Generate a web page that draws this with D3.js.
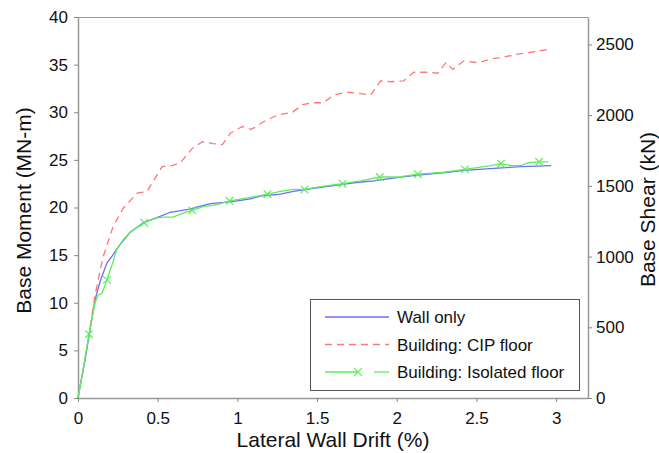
<!DOCTYPE html>
<html>
<head>
<meta charset="utf-8">
<script src="https://cdn.jsdelivr.net/npm/d3@7"></script>
<style>
  body { margin: 0; background: #fff; }
  svg { font-family: "Liberation Sans", Arial, sans-serif; }
</style>
</head>
<body>
<svg id="chart" width="659" height="453"></svg>
<script>
// drift (%) and base moment (MN-m)
const wallDrift  = [0, 0.044, 0.075, 0.107, 0.138, 0.182, 0.214, 0.264, 0.327, 0.409, 0.503, 0.579, 0.692, 0.830, 0.956, 1.082, 1.145, 1.270, 1.352, 1.478, 1.604, 1.730, 1.855, 2.025, 2.132, 2.321, 2.421, 2.610, 2.780, 2.969];
const wallMoment = [0, 4.0, 7.1, 10.3, 12.2, 14.2, 14.9, 16.1, 17.4, 18.4, 19.0, 19.5, 19.8, 20.4, 20.6, 20.9, 21.2, 21.4, 21.7, 22.0, 22.3, 22.6, 22.8, 23.2, 23.4, 23.7, 23.9, 24.1, 24.3, 24.4];

const cipDrift  = [0, 0.044, 0.107, 0.157, 0.220, 0.283, 0.371, 0.434, 0.528, 0.591, 0.642, 0.717, 0.780, 0.849, 0.906, 0.956, 1.031, 1.088, 1.164, 1.252, 1.346, 1.409, 1.472, 1.541, 1.604, 1.679, 1.755, 1.836, 1.899, 1.962, 2.044, 2.107, 2.195, 2.258, 2.308, 2.352, 2.421, 2.509, 2.591, 2.673, 2.761, 2.843, 2.950];
const cipMoment = [0, 4.0, 10.8, 14.8, 18.0, 19.9, 21.5, 21.7, 24.3, 24.4, 24.7, 26.2, 26.9, 26.7, 26.6, 27.8, 28.5, 28.2, 29.0, 29.7, 30.0, 30.8, 31.0, 31.0, 31.8, 32.1, 32.0, 31.8, 33.3, 33.2, 33.3, 34.2, 34.2, 34.1, 35.2, 34.5, 35.4, 35.2, 35.6, 35.8, 36.1, 36.3, 36.6];

const isoDrift  = [0, 0.031, 0.069, 0.094, 0.107, 0.126, 0.151, 0.182, 0.220, 0.245, 0.283, 0.327, 0.415, 0.497, 0.535, 0.597, 0.660, 0.717, 0.786, 0.874, 0.950, 1.063, 1.126, 1.189, 1.270, 1.352, 1.421, 1.522, 1.660, 1.774, 1.893, 2.006, 2.132, 2.296, 2.428, 2.591, 2.654, 2.717, 2.780, 2.824, 2.893, 2.950];
const isoMoment = [0, 2.9, 6.7, 8.9, 10.0, 10.8, 11.0, 12.4, 14.3, 15.7, 16.6, 17.4, 18.4, 18.9, 19.0, 19.0, 19.4, 19.7, 20.1, 20.3, 20.7, 21.0, 21.2, 21.4, 21.7, 21.9, 21.9, 22.2, 22.5, 22.8, 23.2, 23.2, 23.5, 23.7, 24.0, 24.4, 24.6, 24.4, 24.4, 24.7, 24.8, 24.8];
// points of the isolated floor curve that carry an x marker
const isoMarkIndex = [2, 7, 12, 17, 20, 23, 26, 28, 30, 32, 34, 36, 40];

const xTicks = [0, 0.5, 1, 1.5, 2, 2.5, 3];
const yTicks = [0, 5, 10, 15, 20, 25, 30, 35, 40];
const y2Ticks = [0, 500, 1000, 1500, 2000, 2500];

const series = [
  { name: "Wall only", drift: wallDrift, moment: wallMoment, colour: "#6c6cff", dash: null },
  { name: "Building: CIP floor", drift: cipDrift, moment: cipMoment, colour: "#ff7878", dash: "7,5" },
  { name: "Building: Isolated floor", drift: isoDrift, moment: isoMoment, colour: "#5cef5c", dash: null }
];

const svg = d3.select("#chart");
const plotLeft = 78, plotRight = 588, plotTop = 17, plotBottom = 398;

const x = d3.scaleLinear().domain([0, 3.2]).range([plotLeft, plotRight]);
const y = d3.scaleLinear().domain([0, 40]).range([plotBottom, plotTop]);
const y2 = d3.scaleLinear().domain([0, 2694]).range([plotBottom, plotTop]);

// frame on top
svg.append("line")
  .attr("x1", plotLeft).attr("x2", plotRight).attr("y1", plotTop + 0.5).attr("y2", plotTop + 0.5)
  .attr("stroke", "#999").attr("stroke-width", 1);

function styleAxis(g) {
  g.selectAll("path").attr("stroke", "#999").attr("stroke-width", 1.5);
  g.selectAll("line").attr("stroke", "#888");
  g.selectAll("text").attr("fill", "#111").attr("font-size", 17)
    .attr("font-family", "'Liberation Sans', Arial, sans-serif");
}

svg.append("g")
  .attr("transform", `translate(0,${plotBottom})`)
  .call(d3.axisBottom(x).tickValues(xTicks).tickSize(4).tickSizeOuter(0).tickPadding(10).tickFormat(d3.format("")))
  .call(styleAxis);

svg.append("g")
  .attr("transform", `translate(${plotLeft},0)`)
  .call(d3.axisLeft(y).tickValues(yTicks).tickSize(4).tickSizeOuter(0).tickPadding(6))
  .call(styleAxis);

svg.append("g")
  .attr("transform", `translate(${plotRight},0)`)
  .call(d3.axisRight(y2).tickValues(y2Ticks).tickSize(4).tickSizeOuter(0).tickPadding(4).tickFormat(d3.format("d")))
  .call(styleAxis);

// axis titles
svg.append("text")
  .attr("x", (plotLeft + plotRight) / 2).attr("y", 447)
  .attr("text-anchor", "middle").attr("font-size", 21).attr("fill", "#111")
  .text("Lateral Wall Drift (%)");

svg.append("text")
  .attr("transform", `translate(31,${(plotTop + plotBottom) / 2 + 3}) rotate(-90)`)
  .attr("text-anchor", "middle").attr("font-size", 21).attr("fill", "#111")
  .text("Base Moment (MN-m)");

svg.append("text")
  .attr("transform", `translate(655,${(plotTop + plotBottom) / 2 + 2}) rotate(-90)`)
  .attr("text-anchor", "middle").attr("font-size", 21).attr("fill", "#111")
  .text("Base Shear (kN)");

// curves
const line = d3.line().x(d => x(d[0])).y(d => y(d[1]));

series.forEach(s => {
  const pts = s.drift.map((d, i) => [d, s.moment[i]]);
  svg.append("path")
    .datum(pts)
    .attr("fill", "none")
    .attr("stroke", s.colour)
    .attr("stroke-width", 1.3)
    .attr("stroke-dasharray", s.dash)
    .attr("d", line);
});

function xMark(cx, cy, r) {
  return `M${cx - r},${cy - r}L${cx + r},${cy + r}M${cx - r},${cy + r}L${cx + r},${cy - r}`;
}

const iso = series[2];
svg.selectAll("path.mark")
  .data(isoMarkIndex)
  .join("path")
  .attr("class", "mark")
  .attr("fill", "none")
  .attr("stroke", iso.colour)
  .attr("stroke-width", 1.2)
  .attr("d", i => xMark(x(iso.drift[i]), y(iso.moment[i]), 3.8));

// legend
const legend = svg.append("g");
legend.append("rect")
  .attr("x", 310.5).attr("y", 299.5).attr("width", 269).attr("height", 91)
  .attr("fill", "#fff").attr("stroke", "#555").attr("stroke-width", 1);

series.forEach((s, i) => {
  const ly = 317 + i * 27.5;
  if (i === 2) {
    legend.append("line").attr("x1", 325).attr("x2", 358).attr("y1", ly).attr("y2", ly)
      .attr("stroke", s.colour).attr("stroke-width", 1.3);
    legend.append("line").attr("x1", 374).attr("x2", 389).attr("y1", ly).attr("y2", ly)
      .attr("stroke", s.colour).attr("stroke-width", 1.3);
    legend.append("path").attr("d", xMark(358, ly, 3.8))
      .attr("fill", "none").attr("stroke", s.colour).attr("stroke-width", 1.2);
  } else {
    legend.append("line").attr("x1", 325).attr("x2", 389).attr("y1", ly).attr("y2", ly)
      .attr("stroke", s.colour).attr("stroke-width", 1.3)
      .attr("stroke-dasharray", s.dash);
  }
  legend.append("text")
    .attr("x", 397).attr("y", ly + 6)
    .attr("font-size", 17).attr("fill", "#111")
    .text(s.name);
});
</script>
</body>
</html>
